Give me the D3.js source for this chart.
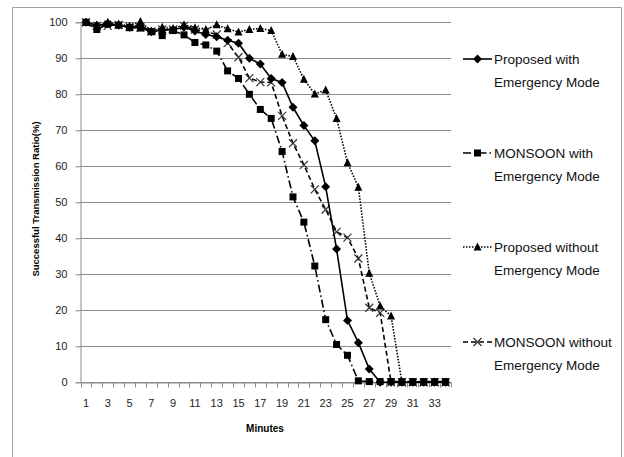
<!DOCTYPE html>
<html>
<head>
<meta charset="utf-8">
<script src="https://cdn.jsdelivr.net/npm/d3@7"></script>
<style>
  body { margin: 0; background: #fff; }
  text { font-family: "Liberation Sans", Arial, sans-serif; }
</style>
</head>
<body>
<script>
const width = 624;
const height = 457;

// data
const minutes = d3.range(1, 35);
const yTicks = [0, 10, 20, 30, 40, 50, 60, 70, 80, 90, 100];
const proposedWith = [100, 99.2, 99.6, 99.2, 98.6, 99.2, 97.4, 97.8, 98, 98.6, 97.6, 96.6, 96, 95, 94.2, 90, 88.4, 84.4, 83.3, 76.4, 71.3, 67.1, 54.3, 37, 17.2, 11, 3.7, 0, 0, 0, 0, 0, 0, 0];
const monsoonWith = [100, 98, 99.5, 99.2, 98.5, 98.4, 97.4, 96.3, 97.7, 96.5, 94.4, 93.7, 92, 86.5, 84.4, 80, 75.8, 73.3, 64.1, 51.5, 44.5, 32.3, 17.4, 10.5, 7.5, 0.4, 0.2, 0.2, 0.2, 0.2, 0.2, 0.2, 0.2, 0.2];
const proposedWithout = [100, 99, 100, 99.5, 99, 100.2, 97.6, 98.6, 98.3, 99.3, 98.5, 98, 99.3, 98.2, 97.3, 98, 98.3, 97.7, 91.1, 90.5, 84.2, 80.1, 81.2, 73.3, 61, 54.2, 30.3, 21.2, 18.4, 0, 0, 0, 0, 0];
const monsoonWithout = [100, 99, 99, 99.3, 98.8, 98.5, 97.5, 98, 98, 99, 98, 97.4, 96.6, 94.2, 90.3, 84.5, 83.4, 83.3, 74, 66.4, 60.4, 53.6, 48, 41.8, 40.2, 34.4, 20.7, 19.3, 0, 0, 0, 0, 0, 0];

const series = [
  { name: ["Proposed with", "Emergency Mode"], values: proposedWith, dash: null, marker: "diamond" },
  { name: ["MONSOON with", "Emergency Mode"], values: monsoonWith, dash: "8,3,1.5,3", marker: "square" },
  { name: ["Proposed without", "Emergency Mode"], values: proposedWithout, dash: "1.5,1.5", marker: "triangle" },
  { name: ["MONSOON without", "Emergency Mode"], values: monsoonWithout, dash: "5,3", marker: "cross" }
];

const svg = d3.select("body").append("svg")
  .attr("width", width)
  .attr("height", height);

// outer frame
svg.append("path")
  .attr("d", "M12.5,457 V7.5 H621.5 V457")
  .attr("fill", "none")
  .attr("stroke", "#a0a0a0")
  .attr("stroke-width", 1);

const x = d3.scaleBand().domain(minutes).range([80.5, 451]);
const y = d3.scaleLinear().domain([0, 100]).range([382.3, 22.3]);

// gridlines
svg.append("g")
  .selectAll("line")
  .data(yTicks)
  .join("line")
  .attr("x1", 80.5)
  .attr("x2", 451)
  .attr("y1", d => Math.round(y(d)) + 0.5)
  .attr("y2", d => Math.round(y(d)) + 0.5)
  .attr("stroke", "#8c8c8c")
  .attr("stroke-width", 1);

// y axis
const yAxis = svg.append("g")
  .attr("transform", "translate(80.5,0)")
  .call(d3.axisLeft(y).tickValues(yTicks).tickSize(5).tickPadding(8));
yAxis.select(".domain").attr("stroke", "#8c8c8c");
yAxis.selectAll(".tick line").attr("stroke", "#8c8c8c");
yAxis.selectAll(".tick text").attr("font-size", 11).attr("fill", "#222");

// x axis
const xAxis = svg.append("g")
  .attr("transform", "translate(0," + (Math.round(y(0)) + 0.5) + ")")
  .call(d3.axisBottom(x).tickSize(0).tickPadding(17)
    .tickFormat(d => d % 2 === 1 ? d : ""));
xAxis.select(".domain").attr("stroke", "#8c8c8c");
xAxis.selectAll(".tick text").attr("font-size", 11).attr("fill", "#222");

// category boundary tick marks
svg.append("g")
  .selectAll("line")
  .data(minutes.map(m => x(m)).concat([x.range()[1]]))
  .join("line")
  .attr("x1", d => Math.round(d) + 0.5)
  .attr("x2", d => Math.round(d) + 0.5)
  .attr("y1", Math.round(y(0)) + 0.5)
  .attr("y2", Math.round(y(0)) + 5.5)
  .attr("stroke", "#8c8c8c");

// axis titles
svg.append("text")
  .attr("x", 265)
  .attr("y", 432)
  .attr("text-anchor", "middle")
  .attr("font-size", 10)
  .attr("font-weight", "bold")
  .text("Minutes");

svg.append("text")
  .attr("transform", "translate(39,199) rotate(-90)")
  .attr("text-anchor", "middle")
  .attr("font-size", 9.5)
  .attr("font-weight", "bold")
  .text("Successful Transmission Ratio(%)");

function drawMarker(g, type) {
  if (type === "diamond") {
    g.append("path").attr("d", "M0,-4.5 L4.5,0 L0,4.5 L-4.5,0 Z").attr("fill", "#000");
  } else if (type === "square") {
    g.append("rect").attr("x", -3.5).attr("y", -3.5).attr("width", 7).attr("height", 7).attr("fill", "#000");
  } else if (type === "triangle") {
    g.append("path").attr("d", "M0,-4.5 L4,3.5 L-4,3.5 Z").attr("fill", "#000");
  } else {
    g.append("path").attr("d", "M-4,-4 L4,4 M-4,4 L4,-4").attr("stroke", "#333").attr("stroke-width", 1.2).attr("fill", "none");
  }
}

const line = d3.line()
  .x((d, i) => x(minutes[i]) + x.bandwidth() / 2)
  .y(d => y(d));

// draw series (last first so solid line sits on top)
series.slice().reverse().forEach(s => {
  svg.append("path")
    .datum(s.values)
    .attr("d", line)
    .attr("fill", "none")
    .attr("stroke", "#000")
    .attr("stroke-width", 1.6)
    .attr("stroke-dasharray", s.dash);

  svg.append("g")
    .selectAll("g")
    .data(s.values)
    .join("g")
    .attr("transform", (d, i) => "translate(" + (x(minutes[i]) + x.bandwidth() / 2) + "," + y(d) + ")")
    .each(function() { drawMarker(d3.select(this), s.marker); });
});

// legend
const legendY = [59, 153, 247, 342];
const legend = svg.append("g")
  .selectAll("g")
  .data(series)
  .join("g")
  .attr("transform", (d, i) => "translate(463," + legendY[i] + ")");

legend.append("line")
  .attr("x1", 0)
  .attr("x2", 29)
  .attr("y1", 0)
  .attr("y2", 0)
  .attr("stroke", "#000")
  .attr("stroke-width", 1.6)
  .attr("stroke-dasharray", d => d.dash);

legend.append("g")
  .attr("transform", "translate(14.5,0)")
  .each(function(d) { drawMarker(d3.select(this), d.marker); });

legend.append("text")
  .attr("x", 31)
  .attr("y", 5)
  .attr("font-size", 13.5)
  .attr("fill", "#111")
  .selectAll("tspan")
  .data(d => d.name)
  .join("tspan")
  .attr("x", 31)
  .attr("dy", (d, i) => i === 0 ? 0 : 23)
  .text(d => d);
</script>
</body>
</html>
